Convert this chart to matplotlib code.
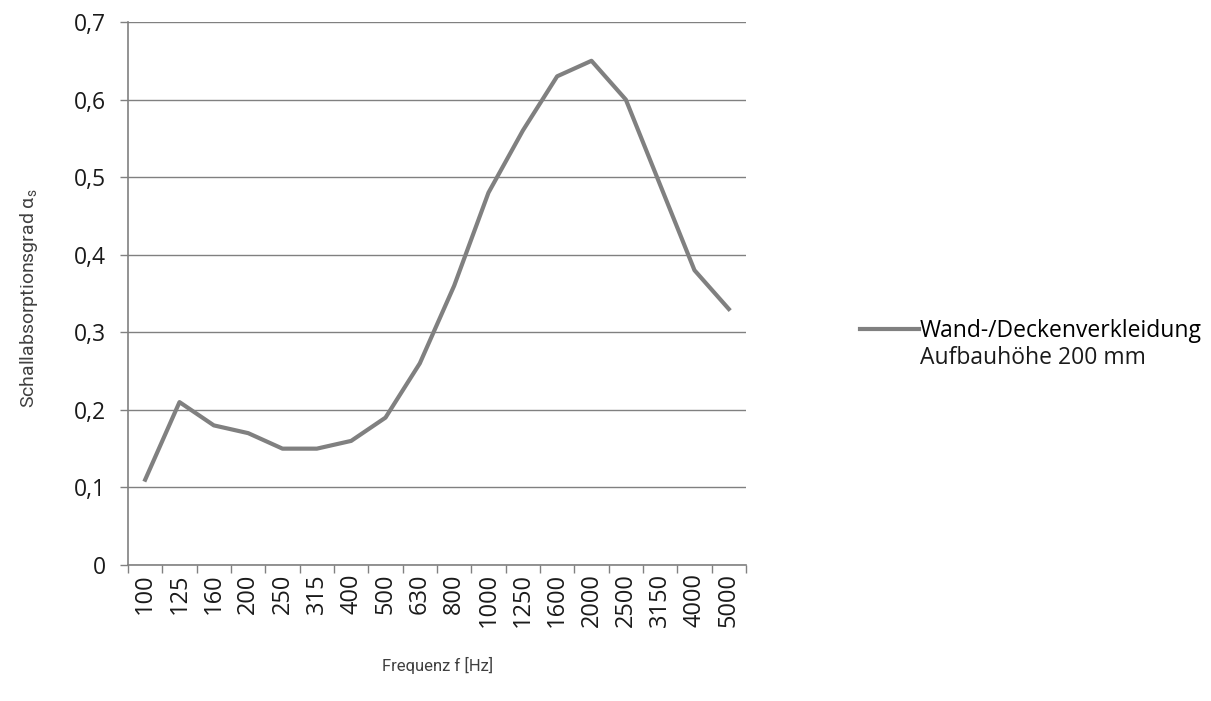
import numpy as np
import matplotlib.pyplot as plt

freq = ['100', '125', '160', '200', '250', '315', '400', '500', '630', '800',
        '1000', '1250', '1600', '2000', '2500', '3150', '4000', '5000']
alpha = [0.11, 0.21, 0.18, 0.17, 0.15, 0.15, 0.16, 0.19, 0.26, 0.36,
         0.48, 0.56, 0.63, 0.65, 0.60, 0.49, 0.38, 0.33]
yticks = [0, 0.1, 0.2, 0.3, 0.4, 0.5, 0.6, 0.7]

plt.rcParams['font.family'] = ['Open Sans', 'DejaVu Sans']
gray = '#808080'
txt = '#1a1a1a'

fig = plt.figure(figsize=(12.11, 7.01), dpi=100)
ax = fig.add_axes([0.1057, 0.194, 0.5103, 0.7746])

x = np.arange(len(freq))
ax.plot(x, alpha, color=gray, linewidth=3, solid_joinstyle='round',
        label='Wand-/Deckenverkleidung')

ax.set_xlim(-0.5, len(freq) - 0.5)
ax.set_ylim(0, 0.7)
ax.set_yticks(yticks)
ax.set_yticklabels(['{:.1f}'.format(v).replace('.', ',') if v else '0' for v in yticks],
                   fontsize=16.5, color=txt)
ax.set_xticks(x)
ax.set_xticklabels(freq, rotation=90, fontsize=17, color=txt)
ax.set_xticks(np.arange(len(freq) + 1) - 0.5, minor=True)
ax.tick_params(axis='x', which='major', length=0, pad=6)
ax.tick_params(axis='x', which='minor', length=6, color=gray, width=1)
ax.tick_params(axis='y', length=6, color=gray, width=1, pad=10)
ax.grid(axis='y', color=gray, linewidth=1)
ax.set_axisbelow(True)

for s in ['top', 'right']:
    ax.spines[s].set_visible(False)
for s in ['left', 'bottom']:
    ax.spines[s].set_color(gray)
    ax.spines[s].set_linewidth(1.2)

fig.text(0.024, 0.575, r'Schallabsorptionsgrad α$_\mathregular{s}$', family='Roboto',
         fontsize=14, color='#404040', rotation=90, ha='center', va='center')
fig.text(0.3615, 0.051, 'Frequenz f [Hz]', family='Roboto',
         fontsize=12, color='#404040', ha='center', va='center')

fig.legend(loc='center left', bbox_to_anchor=(0.7005, 0.528), frameon=False,
           fontsize=16.5, handlelength=2.6, handletextpad=0.0, borderpad=0)
fig.text(0.7595, 0.489, 'Aufbauhöhe 200 mm', fontsize=16.5, color=txt, va='center')

fig.savefig('out.png', dpi=100)
